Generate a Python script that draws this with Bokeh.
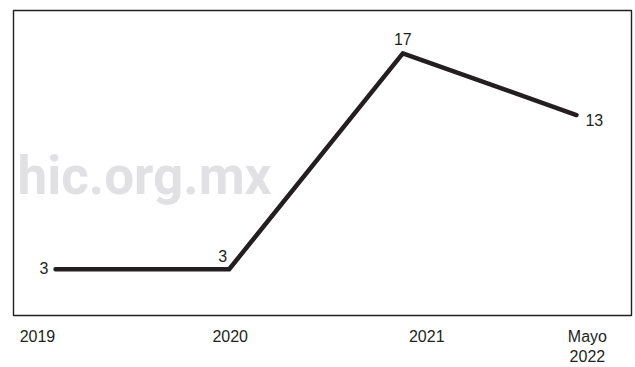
from bokeh.plotting import figure
from bokeh.models import ColumnDataSource, Range1d, FixedTicker, Label
from bokeh.core.properties import value
from bokeh.embed import file_html
from bokeh.resources import INLINE

# ---- data ----
categories = ["2019", "2020", "2021", "Mayo\n2022"]
values = [3, 3, 17, 13]
value_labels = ["3", "3", "17", "13"]

# ---- style (label placement) ----
tick_shift = [-0.104, 0.006, 0.138, 0.063]
lab_align = ["right", "right", "center", "left"]
lab_dx = [-7, -2, 0, 9]
lab_dy = [-1, -13, -14, 5]

INK = "#231f20"
FONT = "Liberation Sans"

xs = list(range(len(categories)))

p = figure(width=635, height=367, output_backend="svg", toolbar_location=None,
           x_range=Range1d(-0.242, 3.317), y_range=Range1d(0, 19.78),
           min_border_left=13, min_border_right=4, min_border_top=10,
           min_border_bottom=49)
p.background_fill_color = "white"
p.border_fill_color = "white"
p.outline_line_color = INK
p.outline_line_width = 1.4
p.xgrid.visible = False
p.ygrid.visible = False
p.yaxis.visible = False

ticks = [round(i + s, 3) for i, s in zip(xs, tick_shift)]
p.xaxis.ticker = FixedTicker(ticks=ticks)
p.xaxis.major_label_overrides = {t: c for t, c in zip(ticks, categories)}
p.xaxis.axis_line_color = None
p.xaxis.major_tick_line_color = None
p.xaxis.minor_tick_line_color = None
p.xaxis.major_tick_out = 0
p.xaxis.major_tick_in = 0
p.xaxis.major_label_standoff = 12
p.xaxis.major_label_text_font = FONT
p.xaxis.major_label_text_font_size = "16px"
p.xaxis.major_label_text_color = INK

# watermark
wm = Label(x=258, y=140, x_units="screen", y_units="screen", text="hic.org.mx",
           text_align="right", text_baseline="alphabetic",
           text_font="Roboto", text_font_style="bold",
           text_font_size="53px", text_color="#e1e1e3", level="underlay")
p.add_layout(wm)

src = ColumnDataSource(dict(x=xs, y=values, t=value_labels, align=lab_align,
                            dx=lab_dx, dy=lab_dy))
p.line("x", "y", source=src, line_color=INK, line_width=4.5,
       line_join="round", line_cap="round")
p.text("x", "y", text="t", source=src, text_align="align",
       text_baseline="alphabetic", x_offset="dx", y_offset="dy",
       text_font=value(FONT), text_font_size="16px", text_color=INK)

open("out.html", "w").write(file_html(p, INLINE))
